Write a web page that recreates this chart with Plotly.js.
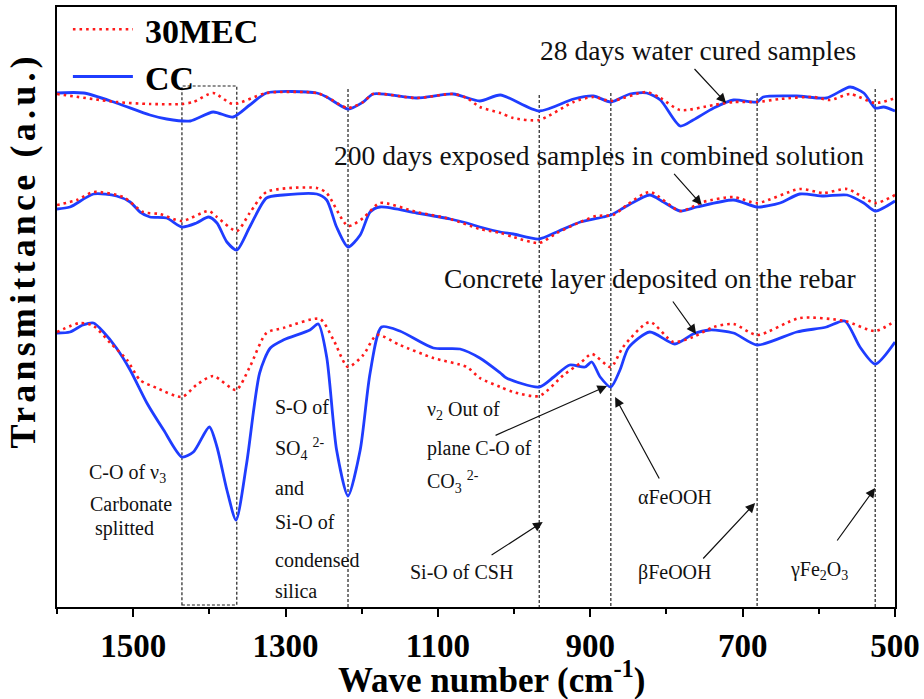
<!DOCTYPE html>
<html>
<head>
<meta charset="utf-8">
<script src="https://cdn.plot.ly/plotly-3.0.1.min.js"></script>
<style>
html,body{margin:0;padding:0;background:#fff;}
#chart{width:924px;height:699px;}
</style>
</head>
<body>
<div id="chart"></div>
<script>
// ---------- DATA (wavenumber in cm-1, transmittance in a.u., stacked offsets) ----------
// 28 days water cured samples
const wnTopCC   = [1600,1565,1522,1478,1456,1425,1395,1369,1347,1325,1259,1246,1218,1198,1185,1128,1080,1045,1018,967,922,896,873,848,826,808,782,765,738,712,681,673,629,590,559,541,526,515,500];
const tTopCC    = [5.14,5.14,5.04,4.92,4.88,4.86,4.95,4.90,5.02,5.14,5.14,5.10,4.98,5.05,5.13,5.09,5.13,5.06,5.12,4.96,5.08,5.11,5.05,5.13,5.14,5.07,4.81,4.87,4.99,5.07,5.05,5.10,5.11,5.09,5.20,5.14,4.99,5.00,4.96];
const wnTopMEC  = [1600,1522,1478,1436,1421,1395,1369,1325,1259,1246,1218,1198,1185,1128,1080,1062,1045,1018,1001,967,922,896,873,826,808,782,738,712,681,651,607,585,559,526,500];
const tTopMEC   = [5.13,5.05,5.03,5.03,5.05,5.14,5.03,5.14,5.14,5.10,4.99,5.05,5.13,5.09,5.13,5.09,5.00,4.94,4.89,4.87,5.05,5.10,5.06,5.15,5.09,4.97,5.02,5.05,5.05,5.08,5.10,5.07,5.13,5.04,5.09];

// 200 days exposed samples in combined solution
const wnMidCC   = [1600,1583,1552,1522,1504,1491,1478,1456,1436,1417,1401,1390,1377,1364,1347,1325,1303,1259,1246,1233,1218,1202,1189,1176,1128,1084,1062,1045,1018,1001,967,944,913,883,873,852,822,804,782,760,712,681,651,625,594,563,541,526,500];
const tMidCC    = [3.98,4.00,4.13,4.11,4.05,3.95,3.90,3.89,3.80,3.84,3.90,3.84,3.65,3.57,3.80,4.09,4.12,4.13,4.07,3.80,3.60,3.72,3.95,4.00,3.94,3.88,3.84,3.80,3.75,3.73,3.68,3.75,3.85,3.90,3.92,4.01,4.12,4.05,3.96,4.00,4.07,4.00,4.04,4.13,4.11,4.12,4.04,3.96,4.06];
const wnMidMEC  = [1600,1574,1552,1513,1487,1465,1436,1401,1390,1364,1347,1325,1259,1246,1218,1198,1176,1128,1084,1045,1018,1001,967,944,913,892,870,852,822,782,752,712,681,625,594,563,526,500];
const tMidMEC   = [4.02,4.07,4.15,4.10,3.95,3.93,3.86,3.96,3.90,3.76,3.94,4.15,4.19,4.14,3.81,3.89,4.04,3.95,3.88,3.78,3.74,3.70,3.64,3.74,3.85,3.91,3.92,4.02,4.15,3.96,4.05,4.10,4.04,4.18,4.14,4.18,4.04,4.12];

// Concrete layer deposited on the rebar
const wnBotCC   = [1600,1583,1566,1552,1539,1522,1504,1482,1460,1436,1421,1400,1390,1377,1365,1351,1334,1320,1303,1268,1257,1246,1233,1218,1202,1189,1174,1150,1106,1071,1045,1018,1010,967,948,927,907,898,887,873,861,850,822,789,765,743,712,681,629,590,566,546,526,500];
const tBotCC    = [2.74,2.75,2.82,2.84,2.75,2.59,2.37,2.04,1.77,1.50,1.55,1.80,1.60,1.17,0.87,1.44,2.34,2.59,2.67,2.77,2.83,2.50,1.57,1.11,1.57,2.34,2.80,2.76,2.59,2.58,2.49,2.34,2.29,2.20,2.30,2.42,2.40,2.45,2.30,2.20,2.37,2.59,2.75,2.63,2.73,2.77,2.74,2.62,2.75,2.80,2.86,2.60,2.43,2.65];
const wnBotMEC  = [1600,1570,1552,1530,1508,1491,1469,1436,1417,1395,1365,1347,1325,1303,1255,1237,1218,1198,1180,1150,1106,1062,1045,1018,1001,967,935,913,898,873,857,822,791,765,738,712,681,625,566,526,500];
const tBotMEC   = [2.75,2.84,2.81,2.64,2.47,2.27,2.19,2.10,2.22,2.31,2.17,2.40,2.74,2.79,2.88,2.67,2.40,2.52,2.72,2.62,2.49,2.40,2.29,2.20,2.15,2.11,2.32,2.44,2.53,2.40,2.60,2.85,2.65,2.70,2.80,2.83,2.72,2.89,2.86,2.76,2.86];

// Band assignments (cm-1)
const peakLines  = [1218, 967, 873, 681, 526];
const splitBand  = [1436, 1364];
const xTicks     = [1500, 1300, 1100, 900, 700, 500];
const seriesNames = ['30MEC', 'CC'];

// ---------- STYLE ----------
const FONT = 'Liberation Serif, Times New Roman, serif';
const RED = '#ff1a1a';
const BLUE = '#1f3dff';

function cc(x, y, show) {
  return {x: x, y: y, type: 'scatter', mode: 'lines', name: seriesNames[1],
    legendgroup: 'cc', showlegend: show, legendrank: 2,
    line: {color: BLUE, width: 2.8, shape: 'spline', smoothing: 0.7}};
}
function mec(x, y, show) {
  return {x: x, y: y, type: 'scatter', mode: 'lines', name: seriesNames[0],
    legendgroup: 'mec', showlegend: show, legendrank: 1,
    line: {color: RED, width: 2.6, dash: '2.6px,4px', shape: 'spline', smoothing: 0.7}};
}

const traces = [
  cc(wnTopCC, tTopCC, true), cc(wnMidCC, tMidCC, false), cc(wnBotCC, tBotCC, false),
  mec(wnTopMEC, tTopMEC, true), mec(wnMidMEC, tMidMEC, false), mec(wnBotMEC, tBotMEC, false)
];

const dashLine = {color: '#222', width: 1.2, dash: '3px,2px'};
const lineTops = [5.18, 5.12, 5.14, 5.14, 5.18];
const shapes = peakLines.map((w, i) => ({type: 'line', xref: 'x', yref: 'y',
  x0: w, x1: w, y0: lineTops[i], y1: 0, line: dashLine, layer: 'below'}));
shapes.push({type: 'rect', xref: 'x', yref: 'y', x0: splitBand[0], x1: splitBand[1],
  y0: 0.02, y1: 5.21, line: dashLine, layer: 'below'});

function txt(text, x, y, size, anchor) {
  return {text: text, x: x, y: y, xref: 'x', yref: 'y', showarrow: false,
    xanchor: anchor || 'left', yanchor: 'middle', font: {family: FONT, size: size, color: '#111'}};
}
function arrow(x, y, ax, ay) {
  return {text: '', x: x, y: y, ax: ax, ay: ay, xref: 'x', yref: 'y', axref: 'x', ayref: 'y',
    showarrow: true, arrowhead: 2, arrowsize: 1.6, arrowwidth: 1.2, arrowcolor: '#111'};
}

const YTITLE = 'Transmittance (a.u.)';
const annotations = [
  {text: YTITLE, xref: 'paper', yref: 'paper', x: -0.040, y: 0.595, xanchor: 'center', yanchor: 'middle',
   textangle: -90, showarrow: false, font: {family: FONT, size: 36, weight: 'bold', color: '#000'}},
  {text: 'Wave number (cm<sup>-1</sup>)', xref: 'paper', yref: 'paper', x: 0.5185, y: -0.117,
   xanchor: 'center', yanchor: 'middle', showarrow: false, borderpad: 0,
   font: {family: FONT, size: 35, weight: 'bold', color: '#000'}},
  txt('28 days water cured samples', 759, 5.57, 27.5, 'center'),
  txt('200 days exposed samples in combined solution', 888, 4.52, 27.5, 'center'),
  txt('Concrete layer deposited on the rebar', 821, 3.29, 27.5, 'center'),
  arrow(721.7, 5.04, 765, 5.395),
  arrow(753.6, 4.02, 791.7, 4.347),
  arrow(761.1, 2.73, 793, 3.07),
  txt('C-O of ν<sub>3</sub>', 1560.6, 1.34, 20),
  txt('Carbonate', 1559.3, 1.03, 20),
  txt('splitted', 1553.1, 0.79, 20),
  txt('S-O of', 1316.8, 2.00, 20),
  txt('SO<sub>4</sub> <sup>2-</sup>', 1316.8, 1.58, 20),
  txt('and', 1316.8, 1.19, 20),
  txt('Si-O of', 1316.8, 0.85, 20),
  txt('condensed', 1316.8, 0.47, 20),
  txt('silica', 1316.8, 0.16, 20),
  txt('ν<sub>2</sub> Out of', 1116.9, 1.97, 20),
  txt('plane C-O of', 1116.9, 1.59, 20),
  txt('CO<sub>3</sub> <sup>2-</sup>', 1116.9, 1.25, 20),
  txt('Si-O of CSH', 1139.2, 0.35, 20),
  txt('αFeOOH', 839.9, 1.10, 20),
  txt('βFeOOH', 839.9, 0.35, 20),
  txt('γFe<sub>2</sub>O<sub>3</sub>', 640.3, 0.37, 20),
  arrow(878, 2.21, 1026.3, 1.71),
  arrow(867.4, 2.10, 808.4, 1.27),
  arrow(962.4, 0.85, 1031.5, 0.51),
  arrow(683.6, 1.04, 753.6, 0.47),
  arrow(526.1, 1.19, 577.3, 0.65)
];

const layout = {
  width: 924, height: 699,
  margin: {l: 57, r: 29, t: 7, b: 92, autoexpand: false},
  paper_bgcolor: '#fff', plot_bgcolor: '#fff',
  font: {family: FONT, color: '#000'},
  showlegend: true,
  legend: {x: 0.013, y: 0.999, yref: 'container', xanchor: 'left', yanchor: 'top', bgcolor: 'rgba(0,0,0,0)',
    tracegroupgap: 0, itemwidth: 60, font: {family: FONT, size: 34, weight: 'bold', color: '#000'}},
  xaxis: {range: [1600, 500], tickvals: xTicks, ticks: 'outside', ticklen: 8, tickwidth: 2,
    tickcolor: '#000', showline: true, linewidth: 2, linecolor: '#000', mirror: true,
    showgrid: false, zeroline: false, automargin: false,
    minor: {dtick: 100, tick0: 500, ticks: 'outside', ticklen: 5, tickwidth: 2, tickcolor: '#000', showgrid: false},
    tickfont: {family: FONT, size: 33, weight: 'bold', color: '#000'}},
  yaxis: {range: [0, 6], showticklabels: false, ticks: '', showline: true, linewidth: 2,
    linecolor: '#000', mirror: true, showgrid: false, zeroline: false, automargin: false},
  shapes: shapes,
  annotations: annotations
};

Plotly.newPlot('chart', traces, layout, {displayModeBar: false, staticPlot: true}).then(function () {
  document.querySelectorAll('.annotation-text').forEach(function (t) {
    if (t.textContent === YTITLE) t.style.letterSpacing = '4.2px';
  });
  document.querySelectorAll('.legendtext').forEach(function (t) {
    const x = parseFloat(t.getAttribute('x')) || 0;
    t.setAttribute('x', x + 7);
  });
});
</script>
</body>
</html>
